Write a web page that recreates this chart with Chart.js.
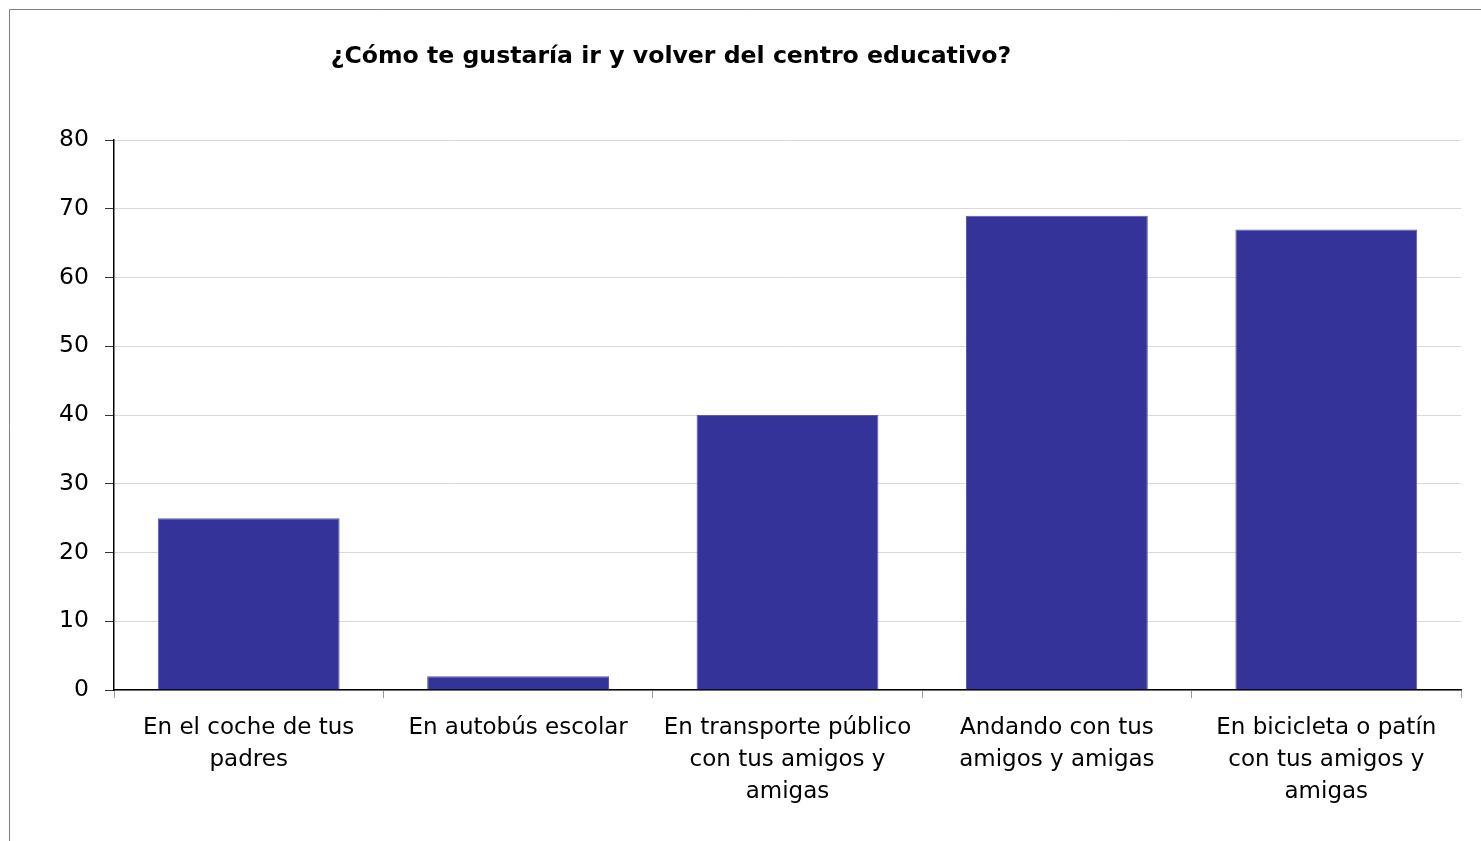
<!DOCTYPE html>
<html>
<head>
<meta charset="utf-8">
<script src="https://cdn.jsdelivr.net/npm/chart.js@4/dist/chart.umd.min.js"></script>
<style>
html,body{margin:0;padding:0;background:#fff;}
#wrap{position:absolute;left:0;top:0;width:1481px;height:841px;}
</style>
</head>
<body>
<div id="wrap"><canvas id="c" width="1481" height="841"></canvas></div>
<script>
const chartTitle = '¿Cómo te gustaría ir y volver del centro educativo?';
const categories = [
  ['En el coche de tus', 'padres'],
  ['En autobús escolar'],
  ['En transporte público', 'con tus amigos y', 'amigas'],
  ['Andando con tus', 'amigos y amigas'],
  ['En bicicleta o patín', 'con tus amigos y', 'amigas']
];
const values = [25, 2, 40, 69, 67];
const yTicks = [0, 10, 20, 30, 40, 50, 60, 70, 80];

const framePlugin = {
  id: 'frame',
  beforeDraw(chart) {
    const ctx = chart.ctx;
    ctx.save();
    ctx.fillStyle = '#fff';
    ctx.fillRect(0, 0, chart.width, chart.height);
    ctx.strokeStyle = '#808080';
    ctx.lineWidth = 1;
    ctx.beginPath();
    ctx.moveTo(9.5, chart.height);
    ctx.lineTo(9.5, 9.5);
    ctx.lineTo(chart.width, 9.5);
    ctx.stroke();
    ctx.restore();
  },
  afterDraw(chart) {
    const ctx = chart.ctx;
    ctx.save();
    ctx.font = 'bold 23.6px "DejaVu Sans"';
    ctx.fillStyle = '#000';
    ctx.textAlign = 'center';
    ctx.textBaseline = 'middle';
    ctx.fillText(chartTitle, 671, 57);
    ctx.restore();
  }
};

new Chart(document.getElementById('c'), {
  type: 'bar',
  data: {
    labels: categories,
    datasets: [{
      data: values,
      backgroundColor: '#333399',
      borderColor: '#5a5aad',
      borderWidth: 1,
      barPercentage: 0.675,
      categoryPercentage: 1
    }]
  },
  plugins: [framePlugin],
  options: {
    responsive: false,
    animation: false,
    devicePixelRatio: 1,
    layout: { padding: { left: 0, top: 140, right: 20, bottom: 0 } },
    plugins: {
      legend: { display: false },
      title: { display: false },
      tooltip: { enabled: false }
    },
    scales: {
      x: {
        grid: {
          display: true,
          drawOnChartArea: false,
          drawTicks: true,
          tickLength: 8,
          tickColor: '#999999',
          offset: true
        },
        border: { display: true, color: '#000', width: 1.5 },
        ticks: {
          color: '#000',
          font: { family: 'DejaVu Sans', size: 23, lineHeight: 1.39 },
          padding: 14,
          maxRotation: 0,
          minRotation: 0,
          autoSkip: false
        },
        afterFit(scale) { scale.height = 151; }
      },
      y: {
        min: 0,
        max: 80,
        afterBuildTicks(scale) { scale.ticks = yTicks.map(v => ({ value: v })); },
        grid: {
          color: '#d9d9d9',
          tickColor: '#333',
          tickLength: 9,
          lineWidth: 1
        },
        border: { display: true, color: '#000', width: 1.5 },
        ticks: {
          color: '#000',
          font: { family: 'DejaVu Sans', size: 23.5 },
          padding: 16
        },
        afterFit(scale) { scale.width = 114; }
      }
    }
  }
});
</script>
</body>
</html>
